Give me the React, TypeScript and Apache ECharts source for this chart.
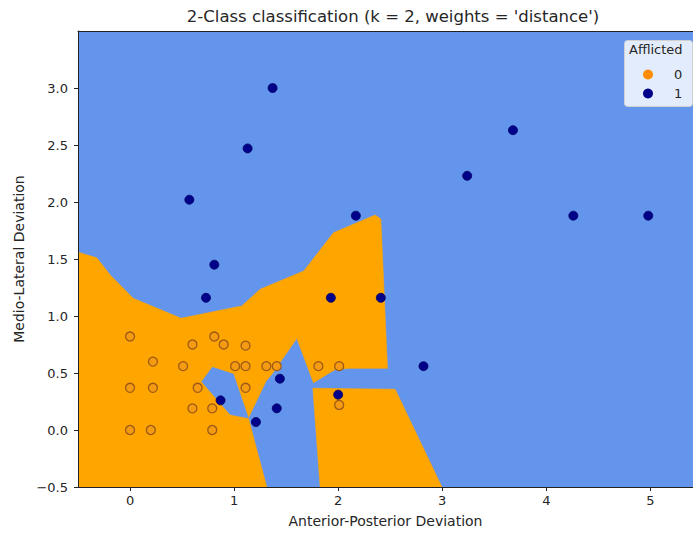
import React, { useEffect, useRef } from "react";
import * as echarts from "echarts";

const chartTitle = "2-Class classification (k = 2, weights = 'distance')";
const xAxisName = "Anterior-Posterior Deviation";
const yAxisName = "Medio-Lateral Deviation";
const legendTitle = "Afflicted";
const classNames = ["0", "1"];
const xTicks = [0, 1, 2, 3, 4, 5];
const yTicks = [-0.5, 0, 0.5, 1, 1.5, 2, 2.5, 3];
const xMin = -0.5;
const xMax = 5.41;
const yMin = -0.5;
const yMax = 3.5;

// class 0 (not afflicted) samples
const class0Points = [
  [0, 0.82], [0.6, 0.75], [0.81, 0.82], [0.9, 0.75], [1.11, 0.74],
  [0.22, 0.6], [0.51, 0.56], [1.01, 0.56], [1.11, 0.56], [1.31, 0.56],
  [1.41, 0.56], [1.81, 0.56], [2.01, 0.56],
  [0, 0.37], [0.22, 0.37], [0.65, 0.37], [1.11, 0.37],
  [0.6, 0.19], [0.79, 0.19], [2.01, 0.22],
  [0, 0], [0.2, 0], [0.79, 0],
];

// class 1 (afflicted) samples
const class1Points = [
  [1.37, 3.0], [1.13, 2.47], [0.57, 2.02], [2.17, 1.88], [3.24, 2.23],
  [3.68, 2.63], [4.26, 1.88], [4.98, 1.88], [0.81, 1.45], [0.73, 1.16],
  [1.93, 1.16], [2.41, 1.16], [1.44, 0.45], [0.87, 0.26], [1.41, 0.19],
  [1.21, 0.07], [2.0, 0.31], [2.82, 0.56],
];

// decision region for class 0 (main area)
const regionClass0Main = [
  [-0.5, -0.5], [-0.5, 1.56], [-0.32, 1.51], [-0.19, 1.36], [0.03, 1.155],
  [0.49, 0.98], [1.074, 1.088], [1.25, 1.234], [1.67, 1.395], [1.955, 1.73],
  [2.356, 1.886], [2.41, 1.85], [2.474, 0.541], [2.115, 0.541], [1.97, 0.53],
  [1.763, 0.415], [1.603, 0.804], [1.365, 0.491], [1.308, 0.43],
  [1.137, 0.105], [1.314, -0.5],
];
// decision region for class 0 (lower right piece)
const regionClass0Lower = [
  [1.757, 0.366], [2.548, 0.357], [2.997, -0.5], [1.827, -0.5],
];
// class 1 pocket inside the class 0 area
const regionClass1Pocket = [
  [0.689, 0.424], [0.791, 0.55], [0.993, 0.491], [1.137, 0.105], [0.962, 0.136],
];

const class0Regions = [regionClass0Main, regionClass0Lower];
const class1Regions = [regionClass1Pocket];

const FONT = "DejaVu Sans";
const TXT = "#262626";

function polygonRenderer(polys: number[][][], color: string) {
  return (params: any, api: any) => {
    const poly = polys[params.dataIndex];
    const points = poly.map((p) => api.coord(p));
    return {
      type: "polygon",
      shape: { points },
      style: { fill: color, stroke: color, lineWidth: 0.6 },
    };
  };
}

export default function App() {
  const ref = useRef<HTMLDivElement>(null);
  useEffect(() => {
    if (!ref.current) return;
    const chart = echarts.init(ref.current, undefined, { renderer: "svg" });
    const axisCommon = {
      type: "value" as const,
      splitLine: { show: false },
      z: 10,
    };
    chart.setOption({
      animation: false,
      title: {
        text: chartTitle,
        left: 388,
        top: 3,
        textAlign: "center",
        textStyle: { fontFamily: FONT, fontSize: 16.5, fontWeight: "normal", color: TXT },
      },
      grid: {
        left: 78,
        top: 31,
        right: 0,
        bottom: 47,
        show: true,
        backgroundColor: "#6495ED",
        borderWidth: 0,
      },
      xAxis: [
        {
          ...axisCommon,
          min: xMin,
          max: xMax,
          position: "bottom",
          name: xAxisName,
          nameLocation: "middle",
          nameGap: 27,
          nameTextStyle: { fontFamily: FONT, fontSize: 14, color: TXT },
          axisLine: { show: true, onZero: false, lineStyle: { color: "#222", width: 1 } },
          axisTick: { show: true, length: 4, customValues: xTicks, lineStyle: { color: "#222" } },
          axisLabel: {
            customValues: xTicks,
            fontFamily: FONT,
            fontSize: 13,
            color: TXT,
            margin: 7,
          },
        },
        {
          ...axisCommon,
          min: xMin,
          max: xMax,
          position: "top",
          axisLine: { show: true, onZero: false, lineStyle: { color: "#222", width: 1 } },
          axisTick: { show: false },
          axisLabel: { show: false },
        },
      ],
      yAxis: {
        ...axisCommon,
        min: yMin,
        max: yMax,
        name: yAxisName,
        nameLocation: "middle",
        nameGap: 52,
        nameTextStyle: { fontFamily: FONT, fontSize: 14, color: TXT },
        axisLine: { show: true, onZero: false, lineStyle: { color: "#222", width: 1 } },
        axisTick: { show: true, length: 4, customValues: yTicks, lineStyle: { color: "#222" } },
        axisLabel: {
          customValues: yTicks,
          fontFamily: FONT,
          fontSize: 13,
          color: TXT,
          margin: 10,
          formatter: (v: number) => {
            const s = v.toFixed(1);
            return v < 0 ? "\u2212" + s.slice(1) : s;
          },
        },
      },
      legend: {
        orient: "vertical",
        left: 638,
        top: 63,
        icon: "circle",
        itemWidth: 10,
        itemHeight: 10,
        itemGap: 6,
        z: 30,
        textStyle: { fontFamily: FONT, fontSize: 13, color: TXT, padding: [0, 0, 0, 16] },
        data: [
          { name: classNames[0], itemStyle: { color: "#ff8c00", borderWidth: 0 } },
          { name: classNames[1], itemStyle: { color: "#00008b", borderWidth: 0 } },
        ],
      },
      graphic: [
        {
          type: "rect",
          left: 624,
          top: 40,
          z: 20,
          shape: { width: 68, height: 66, r: 3 },
          style: { fill: "rgba(255,255,255,0.82)", stroke: "#d0d0d0", lineWidth: 1 },
        },
        {
          type: "text",
          left: 629,
          top: 43,
          z: 21,
          style: { text: legendTitle, fontFamily: FONT, fontSize: 13, fill: TXT },
        },
      ],
      series: [
        {
          type: "custom",
          name: "region0",
          silent: true,
          renderItem: polygonRenderer(class0Regions, "#FFA500"),
          data: class0Regions.map((_, i) => [0, 0, i]),
          clip: true,
        },
        {
          type: "custom",
          name: "region1",
          silent: true,
          renderItem: polygonRenderer(class1Regions, "#6495ED"),
          data: class1Regions.map((_, i) => [0, 0, i]),
          clip: true,
        },
        {
          type: "scatter",
          name: classNames[0],
          data: class0Points,
          symbolSize: 9,
          itemStyle: { color: "#F59B12", borderColor: "#9C5A17", borderWidth: 1.3, opacity: 1 },
        },
        {
          type: "scatter",
          name: classNames[1],
          data: class1Points,
          symbolSize: 9,
          itemStyle: { color: "#00008B", borderColor: "#000060", borderWidth: 0.8, opacity: 1 },
        },
      ],
    });
    return () => chart.dispose();
  }, []);
  return (
    <div
      ref={ref}
      style={{ position: "fixed", left: 0, top: 0, width: 693, height: 534, background: "#fff" }}
    />
  );
}
